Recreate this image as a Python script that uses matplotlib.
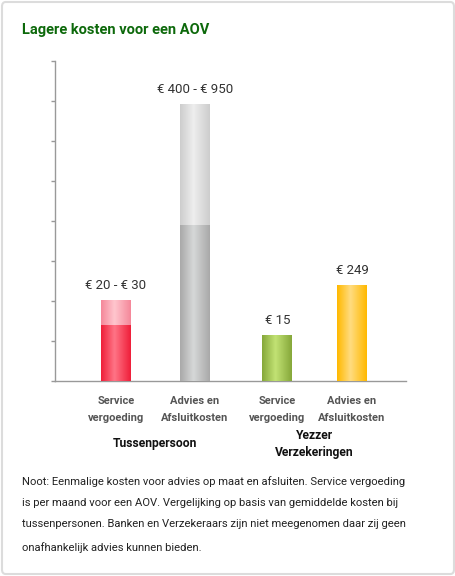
import numpy as np
import matplotlib
matplotlib.use("Agg")
import matplotlib.pyplot as plt
from matplotlib.colors import LinearSegmentedColormap
from matplotlib.patches import FancyBboxPatch

# ---- data ----
categories = ["Service\nvergoeding", "Advies en\nAfsluitkosten",
              "Service\nvergoeding", "Advies en\nAfsluitkosten"]
groups = ["Tussenpersoon", "Yezzer\nVerzekeringen"]
positions = [0, 1, 2.05, 3]
base_heights = [1.4, 3.9, 1.15, 2.4]      # solid (lower) part
extra_heights = [0.62, 3.02, 0.0, 0.0]     # lighter range part on top
value_labels = ["€ 20 - € 30", "€ 400 - € 950", "€ 15", "€ 249"]
base_colors = [("#ef1f3a", "#ff7486"), ("#a9a9a9", "#d6d8d8"),
               ("#86a83a", "#c2e274"), ("#ffb900", "#ffdc80")]
extra_colors = [("#f5889a", "#ffc6ce"), ("#cdcdcd", "#eeeeee"),
                ("#cdcdcd", "#eeeeee"), ("#cdcdcd", "#eeeeee")]
title = "Lagere kosten voor een AOV"
note = ("Noot: Eenmalige kosten voor advies op maat en afsluiten. Service vergoeding\n"
        "is per maand voor een AOV. Vergelijking op basis van gemiddelde kosten bij\n"
        "tussenpersonen. Banken en Verzekeraars zijn niet meegenomen daar zij geen\n"
        "onafhankelijk advies kunnen bieden.")

W, H = 456, 576
fig = plt.figure(figsize=(W / 100, H / 100), dpi=100)
fig.patch.set_facecolor("white")

font = ["Roboto", "DejaVu Sans"]

# frame
frame = FancyBboxPatch((2 / W, 2 / H), (W - 4) / W, (H - 4) / H,
                       boxstyle="round,pad=0,rounding_size=0.008",
                       transform=fig.transFigure, facecolor="none",
                       edgecolor="#dcdcdc", linewidth=1.5, zorder=-5)
fig.patches.append(frame)

ax = fig.add_axes([55 / W, (H - 381) / H, 351 / W, 320 / H])
ax.set_facecolor("none")
ax.set_ylim(0, 8)
ax.set_xlim(-0.775, 3.686)
bar_w = 0.381

def gradient_fill(patch, c_edge, c_mid):
    cmap = LinearSegmentedColormap.from_list("g", [(0, c_edge), (0.45, c_mid), (1, c_edge)])
    x0, y0 = patch.get_x(), patch.get_y()
    w, h = patch.get_width(), patch.get_height()
    if h <= 0:
        return
    grad = np.linspace(0, 1, 64).reshape(1, -1)
    im = ax.imshow(grad, cmap=cmap, extent=(x0, x0 + w, y0, y0 + h),
                   aspect="auto", zorder=3, interpolation="bilinear")
    im.set_clip_path(patch)

bars_base = ax.bar(positions, base_heights, width=bar_w, color="none",
                   edgecolor="none", zorder=2)
bars_extra = ax.bar(positions, extra_heights, width=bar_w, bottom=base_heights,
                    color="none", edgecolor="none", zorder=2)
for p, (ce, cm) in zip(bars_base.patches, base_colors):
    gradient_fill(p, ce, cm)
for p, (ce, cm) in zip(bars_extra.patches, extra_colors):
    gradient_fill(p, ce, cm)

for x, b, e, lab in zip(positions, base_heights, extra_heights, value_labels):
    ax.annotate(lab, (x, b + e), xytext=(0, 6), textcoords="offset points",
                ha="center", va="bottom", fontsize=9.5, color="#333333",
                family=font)

ax.set_xlim(-0.775, 3.686)
ax.set_ylim(0, 8)

for s in ["top", "right"]:
    ax.spines[s].set_visible(False)
for s in ["left", "bottom"]:
    ax.spines[s].set_color("#999999")
    ax.spines[s].set_linewidth(1)
ax.set_yticks(np.arange(0, 9, 1))
ax.set_yticklabels([])
ax.tick_params(axis="y", length=3, width=1, color="#999999", direction="out")
ax.set_xticks(positions)
ax.set_xticklabels(categories, fontsize=8, fontweight="bold", color="#555555",
                   family=font, linespacing=1.9)
ax.tick_params(axis="x", length=0, pad=10.5)

# group labels
for gx, g in zip([(positions[0] + positions[1]) / 2, (positions[2] + positions[3]) / 2], groups):
    ax.text(gx, -1.57, g, ha="center", va="center", fontsize=8.7, fontweight="bold",
            color="#111111", family=font, linespacing=1.45,
            transform=ax.transData, clip_on=False)

fig.text(22 / W, 1 - 30 / H, title, ha="left", va="center", fontsize=10.5,
         fontweight="bold", color="#0d690b", family=font)

fig.text(22 / W, 1 - 476 / H, note, ha="left", va="top", fontsize=8.1,
         color="#222222", family=font, linespacing=2.4)

fig.savefig("out.png", dpi=100, facecolor="white")
